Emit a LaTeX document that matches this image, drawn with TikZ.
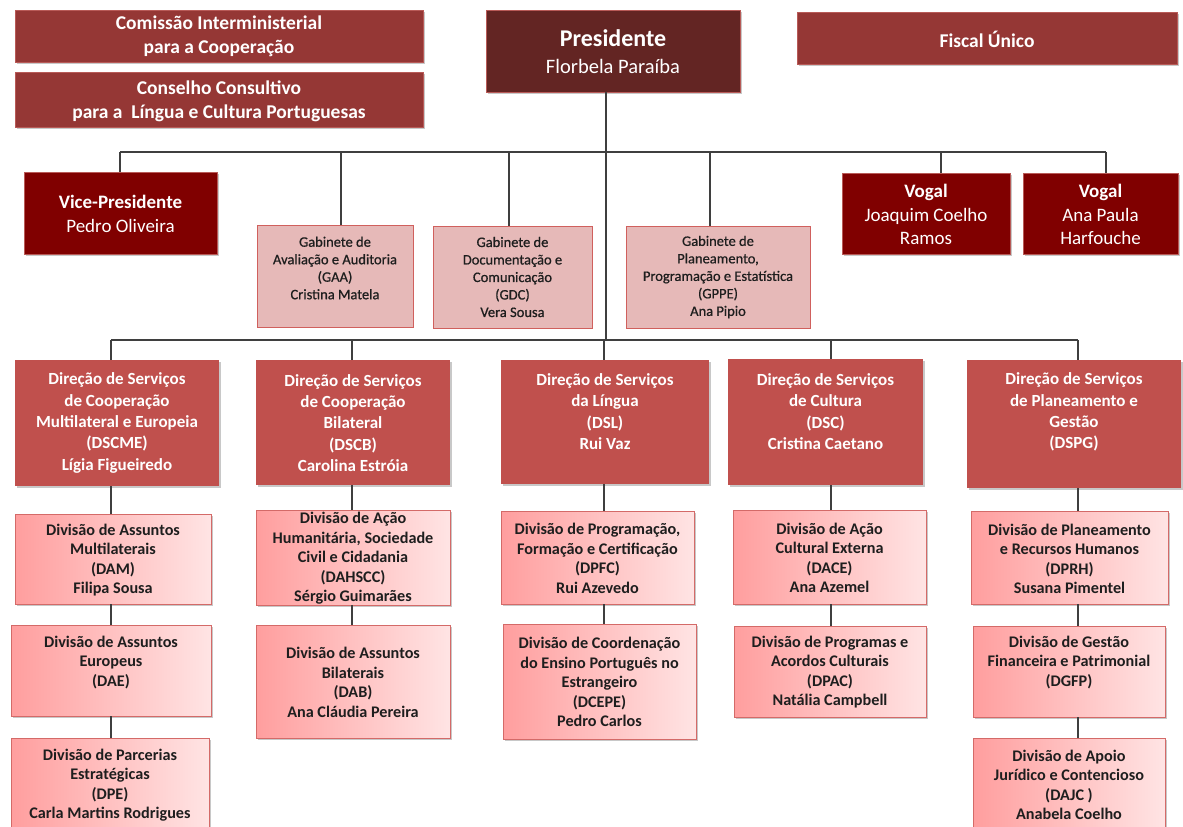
\documentclass[tikz,border=0pt]{standalone}
\usepackage{fontspec}
\setmainfont{Carlito}
\newfontfamily\gabfont[FakeBold=0.7]{Carlito}
\usetikzlibrary{shadows}
\definecolor{topc}{HTML}{953735}
\definecolor{topb}{HTML}{B85A57}
\definecolor{presc}{HTML}{632523}
\definecolor{vpc}{HTML}{800000}
\definecolor{gabc}{HTML}{E6B9B8}
\definecolor{gabb}{HTML}{D0605D}
\definecolor{dirc}{HTML}{C0504D}
\definecolor{divl}{HTML}{FF9E9E}
\definecolor{divr}{HTML}{FFE4E4}
\definecolor{divb}{HTML}{D46A68}
\definecolor{linec}{HTML}{3F3F3F}
\definecolor{txtd}{HTML}{1E1E1E}
\tikzset{
  x=1pt, y=-1pt,
  base/.style={rectangle, inner sep=0pt, outer sep=0pt,
    drop shadow={shadow xshift=1.5pt, shadow yshift=-2pt, opacity=0.3, fill=black!70}},
  top box/.style={base, fill=topc, draw=topb, line width=0.8pt},
  top txt/.style={align=center, inner sep=0pt, text=white, font=\fontsize{19.5}{24}\selectfont\bfseries},
  pres box/.style={base, fill=presc, draw=topb, line width=0.8pt},
  pres txt/.style={align=center, inner sep=0pt, text=white, font=\fontsize{20.5}{27}\selectfont},
  vp box/.style={base, fill=vpc, draw=topb, line width=0.8pt},
  vp txt/.style={align=center, inner sep=0pt, text=white, font=\fontsize{19}{23.2}\selectfont},
  gab box/.style={rectangle, inner sep=0pt, outer sep=0pt, fill=gabc, draw=gabb, line width=1pt},
  gab txt/.style={align=center, inner sep=0pt, text=txtd, font=\fontsize{14.5}{17.5}\gabfont},
  dir box/.style={base, fill=dirc},
  dir txt/.style={align=center, inner sep=0pt, text=white, font=\fontsize{17}{21.3}\selectfont\bfseries},
  div box/.style={base, left color=divl, right color=divr, draw=divb, line width=1pt},
  div txt/.style={align=center, inner sep=0pt, text=txtd, font=\fontsize{16.2}{19.5}\selectfont\bfseries},
  conn/.style={draw=linec, line width=1.2pt},
}
% #1 name, #2 kind, #3 x1, #4 y1, #5 x2, #6 y2, #7 text centre y, #8 text
\newcommand\orgbox[8]{%
  \node[#2 box, minimum width={#5-#3}, minimum height={#6-#4}] (#1) at ({(#3+#5)/2},{(#4+#6)/2}) {};
  \node[#2 txt] (#1t) at ({(#3+#5)/2},#7) {#8};
}
\begin{document}
\begin{tikzpicture}
\useasboundingbox (0,0) rectangle (1183,827);
\fill[white] (0,0) rectangle (1183,827);

% columns and buses
\coordinate (bus1) at (0,152);
\coordinate (bus2) at (0,340);
\coordinate (xpres) at (606,0);
\coordinate (xvp) at (120,0);
\coordinate (xgaa) at (341,0);
\coordinate (xgdc) at (509,0);
\coordinate (xgppe) at (710,0);
\coordinate (xvog1) at (941,0);
\coordinate (xvog2) at (1106,0);
\coordinate (xc1) at (111,0);
\coordinate (xc2) at (352,0);
\coordinate (xc3) at (604,0);
\coordinate (xc4) at (831,0);
\coordinate (xc5) at (1078,0);

% top level
\orgbox{comissao}{top}{15}{10}{423}{62}{36}{Comissão Interministerial\\para a Cooperação}
\orgbox{conselho}{top}{15}{72}{423}{127}{101}{Conselho Consultivo\\para a\ \ Língua e Cultura Portuguesas}
\orgbox{fiscal}{top}{797}{12}{1177}{64}{39}{Fiscal Único}
\orgbox{pres}{pres}{486}{10}{740}{92}{52}{{\fontsize{24}{27}\selectfont\bfseries Presidente}\\Florbela Paraíba}

% second level
\orgbox{vp}{vp}{24}{172}{217}{254}{214}{\textbf{Vice-Presidente}\\Pedro Oliveira}
\orgbox{vog1}{vp}{842}{173}{1010}{254}{214.5}{\textbf{Vogal}\\Joaquim Coelho\\Ramos}
\orgbox{vog2}{vp}{1023}{173}{1178}{254}{214.5}{\textbf{Vogal}\\Ana Paula\\Harfouche}
\orgbox{gaa}{gab}{257}{225}{413}{327}{268}{Gabinete de\\Avaliação e Auditoria\\(GAA)\\Cristina Matela}
\orgbox{gdc}{gab}{433}{226}{592}{328}{277}{Gabinete de\\Documentação e\\Comunicação\\(GDC)\\Vera Sousa}
\orgbox{gppe}{gab}{626}{226}{810}{328}{277}{Gabinete de\\Planeamento,\\Programação e Estatística\\(GPPE)\\Ana Pipio}

% directions
\orgbox{dscme}{dir}{15}{360}{219}{486}{423}{Direção de Serviços\\de Cooperação\\Multilateral e Europeia\\(DSCME)\\Lígia Figueiredo}
\orgbox{dscb}{dir}{256}{360}{450}{485}{423}{Direção de Serviços\\de Cooperação\\Bilateral\\(DSCB)\\Carolina Estróia}
\orgbox{dsl}{dir}{501}{360}{709}{484}{411.5}{Direção de Serviços\\da Língua\\(DSL)\\Rui Vaz}
\orgbox{dsc}{dir}{728}{359}{923}{485}{411.5}{Direção de Serviços\\de Cultura\\(DSC)\\Cristina Caetano}
\orgbox{dspg}{dir}{967}{360}{1181}{488}{412}{Direção de Serviços\\de Planeamento e\\Gestão\\(DSPG)}

% divisions
\orgbox{dam}{div}{15}{514}{211}{604}{560}{Divisão de Assuntos\\Multilaterais\\(DAM)\\Filipa Sousa}
\orgbox{dae}{div}{11}{625}{211}{716}{662.5}{Divisão de Assuntos\\Europeus\\(DAE)}
\orgbox{dpe}{div}{11}{738}{209}{845}{785}{Divisão de Parcerias\\Estratégicas\\(DPE)\\Carla Martins Rodrigues}
\orgbox{dahscc}{div}{256}{510}{450}{605}{558.5}{Divisão de Ação\\Humanitária, Sociedade\\Civil e Cidadania\\(DAHSCC)\\Sérgio Guimarães}
\orgbox{dab}{div}{256}{625}{450}{738}{682.5}{Divisão de Assuntos\\Bilaterais\\(DAB)\\Ana Cláudia Pereira}
\orgbox{dpfc}{div}{501}{511}{694}{604}{558.5}{Divisão de Programação,\\Formação e Certificação\\(DPFC)\\Rui Azevedo}
\orgbox{dcepe}{div}{503}{624}{696}{739}{682}{Divisão de Coordenação\\do Ensino Português no\\Estrangeiro\\(DCEPE)\\Pedro Carlos}
\orgbox{dace}{div}{733}{510}{926}{604}{558}{Divisão de Ação\\Cultural Externa\\(DACE)\\Ana Azemel}
\orgbox{dpac}{div}{734}{626}{926}{717}{672}{Divisão de Programas e\\Acordos Culturais\\(DPAC)\\Natália Campbell}
\orgbox{dprh}{div}{971}{511}{1168}{604}{559}{Divisão de Planeamento\\e Recursos Humanos\\(DPRH)\\Susana Pimentel}
\orgbox{dgfp}{div}{973}{626}{1165}{717}{662.5}{Divisão de Gestão\\Financeira e Patrimonial\\(DGFP)}
\orgbox{dajc}{div}{973}{738}{1165}{845}{785}{Divisão de Apoio\\Jurídico e Contencioso\\(DAJC )\\Anabela Coelho}

% connectors
\draw[conn] (pres.south -| xpres) -- (bus2 -| xpres);
\draw[conn] (bus1 -| xvp) -- (bus1 -| xvog2);
\draw[conn] (bus1 -| xvp) -- (vp.north -| xvp);
\draw[conn] (bus1 -| xgaa) -- (gaa.north -| xgaa);
\draw[conn] (bus1 -| xgdc) -- (gdc.north -| xgdc);
\draw[conn] (bus1 -| xgppe) -- (gppe.north -| xgppe);
\draw[conn] (bus1 -| xvog1) -- (vog1.north -| xvog1);
\draw[conn] (bus1 -| xvog2) -- (vog2.north -| xvog2);
\draw[conn] (bus2 -| xc1) -- (bus2 -| xc5);
\draw[conn] (bus2 -| xc1) -- (dscme.north -| xc1);
\draw[conn] (bus2 -| xc2) -- (dscb.north -| xc2);
\draw[conn] (bus2 -| xc3) -- (dsl.north -| xc3);
\draw[conn] (bus2 -| xc4) -- (dsc.north -| xc4);
\draw[conn] (bus2 -| xc5) -- (dspg.north -| xc5);
\draw[conn] (dscme.south -| xc1) -- (dam.north -| xc1);
\draw[conn] (dam.south -| xc1) -- (dae.north -| xc1);
\draw[conn] (dae.south -| xc1) -- (dpe.north -| xc1);
\draw[conn] (dscb.south -| xc2) -- (dahscc.north -| xc2);
\draw[conn] (dahscc.south -| xc2) -- (dab.north -| xc2);
\draw[conn] (dsl.south -| xc3) -- (dpfc.north -| xc3);
\draw[conn] (dpfc.south -| xc3) -- (dcepe.north -| xc3);
\draw[conn] (dsc.south -| xc4) -- (dace.north -| xc4);
\draw[conn] (dace.south -| xc4) -- (dpac.north -| xc4);
\draw[conn] (dspg.south -| xc5) -- (dprh.north -| xc5);
\draw[conn] (dprh.south -| xc5) -- (dgfp.north -| xc5);
\draw[conn] (dgfp.south -| xc5) -- (dajc.north -| xc5);
\end{tikzpicture}
\end{document}
